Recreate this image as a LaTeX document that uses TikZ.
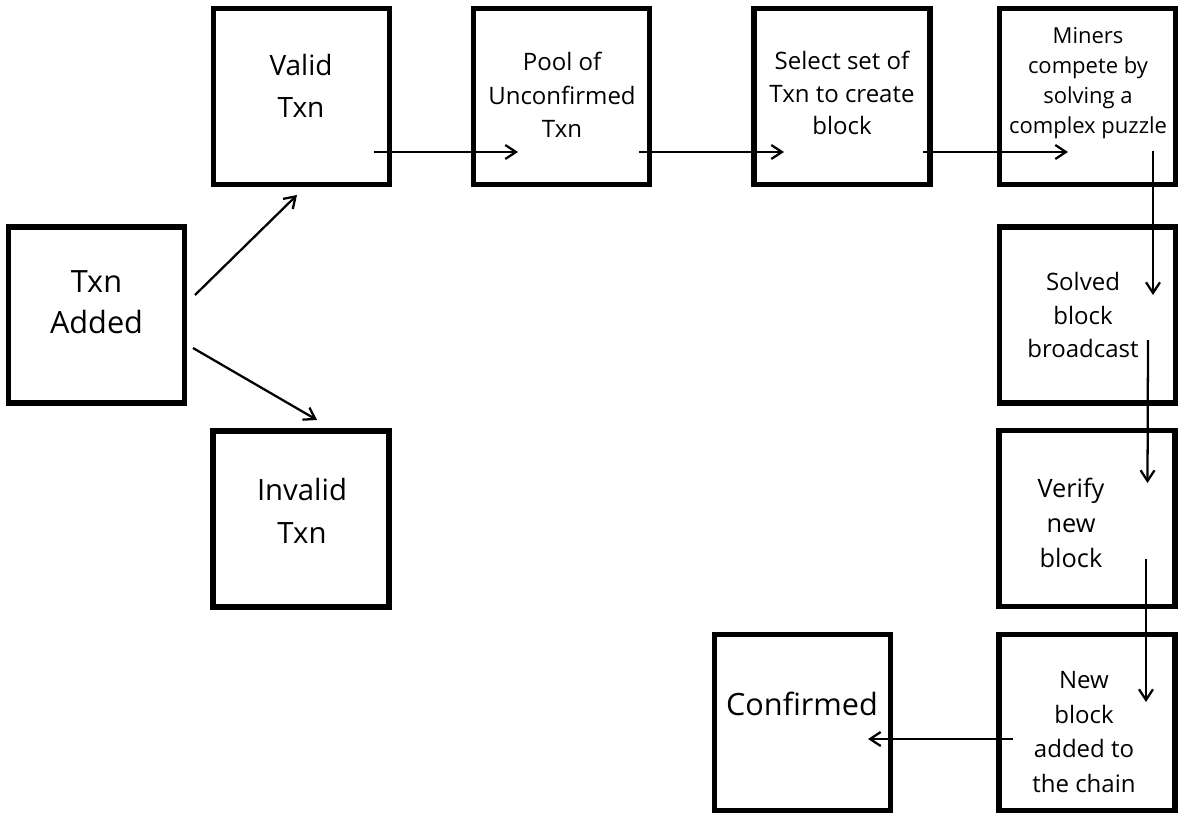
\documentclass[tikz,border=0pt]{standalone}
\usepackage{fontspec}
\setmainfont{Open Sans}
\usetikzlibrary{arrows.meta}

\begin{document}
\begin{tikzpicture}[x=0.75pt, y=-0.75pt,
    stage/.style={draw, line width=4pt, minimum size=132pt, inner sep=0pt},
    stagetext/.style={align=center, inner sep=0pt},
    flow/.style={line width=1.7pt, -{Straight Barb[length=8pt, width=10.5pt]}}]
    \useasboundingbox (0,0) rectangle (1181,817);

    % Boxes
    \node[stage] (added) at (96.5,315) {};
    \node[stage] (valid) at (301.5,96.5) {};
    \node[stage] (invalid) at (301,519) {};
    \node[stage] (pool) at (561.5,96.5) {};
    \node[stage] (select) at (842,96.5) {};
    \node[stage] (miners) at (1087.5,96.5) {};
    \node[stage] (solved) at (1087.5,315) {};
    \node[stage] (verify) at (1087,518.5) {};
    \node[stage] (newblock) at (1087,722.5) {};
    \node[stage] (confirmed) at (802.5,722.5) {};

    % Texts in the boxes
    \node[stagetext, font=\fontsize{23}{31}\selectfont] (addedtext) at (96.5,302) {Txn\\Added};
    \node[stagetext, font=\fontsize{21}{31.5}\selectfont] (validtext) at (301,86) {Valid\\Txn};
    \node[stagetext, font=\fontsize{22}{32}\selectfont] (invalidtext) at (302,511) {Invalid\\Txn};
    \node[stagetext, font=\fontsize{18}{25}\selectfont] (pooltext) at (562,95) {Pool of\\Unconfirmed\\Txn};
    \node[stagetext, font=\fontsize{18}{24.5}\selectfont] (selecttext) at (842,93) {Select set of\\Txn to create\\block};
    \node[stagetext, font=\fontsize{16.5}{22.5}\selectfont] (minerstext) at (1088,83) {Miners\\compete by\\solving a\\complex puzzle};
    \node[stagetext, font=\fontsize{18}{25}\selectfont] (solvedtext) at (1083,315) {Solved\\block\\broadcast};
    \node[stagetext, font=\fontsize{19}{26}\selectfont] (verifytext) at (1071,523) {Verify\\new\\block};
    \node[stagetext, font=\fontsize{18}{26}\selectfont] (newblocktext) at (1084,732) {New\\block\\added to\\the chain};
    \node[stagetext, font=\fontsize{23}{31}\selectfont] (confirmedtext) at (802,703.5) {Confirmed};

    % Arrows
    \draw[flow] ([shift={(98.5,-20)}]added.center) -- ([shift={(-4.5,98.5)}]valid.center);
    \draw[flow] ([shift={(96.5,33)}]added.center) -- ([shift={(16,-99)}]invalid.center);
    \draw[flow] ([shift={(72.5,55.5)}]valid.center) -- ([shift={(-43.5,55.5)}]pool.center);
    \draw[flow] ([shift={(77.5,55.5)}]pool.center) -- ([shift={(-58,55.5)}]select.center);
    \draw[flow] ([shift={(81,55.5)}]select.center) -- ([shift={(-19.5,55.5)}]miners.center);
    \draw[flow] ([shift={(65.5,54.5)}]miners.center) -- ([shift={(65.5,-20)}]solved.center);
    \draw[flow] ([shift={(60.5,25)}]solved.center) -- ([shift={(60.5,-35.5)}]verify.center);
    \draw[flow] ([shift={(59,40.5)}]verify.center) -- ([shift={(59,-20.5)}]newblock.center);
    \draw[flow] ([shift={(-74,16.5)}]newblock.center) -- ([shift={(65.5,16.5)}]confirmed.center);
\end{tikzpicture}
\end{document}
